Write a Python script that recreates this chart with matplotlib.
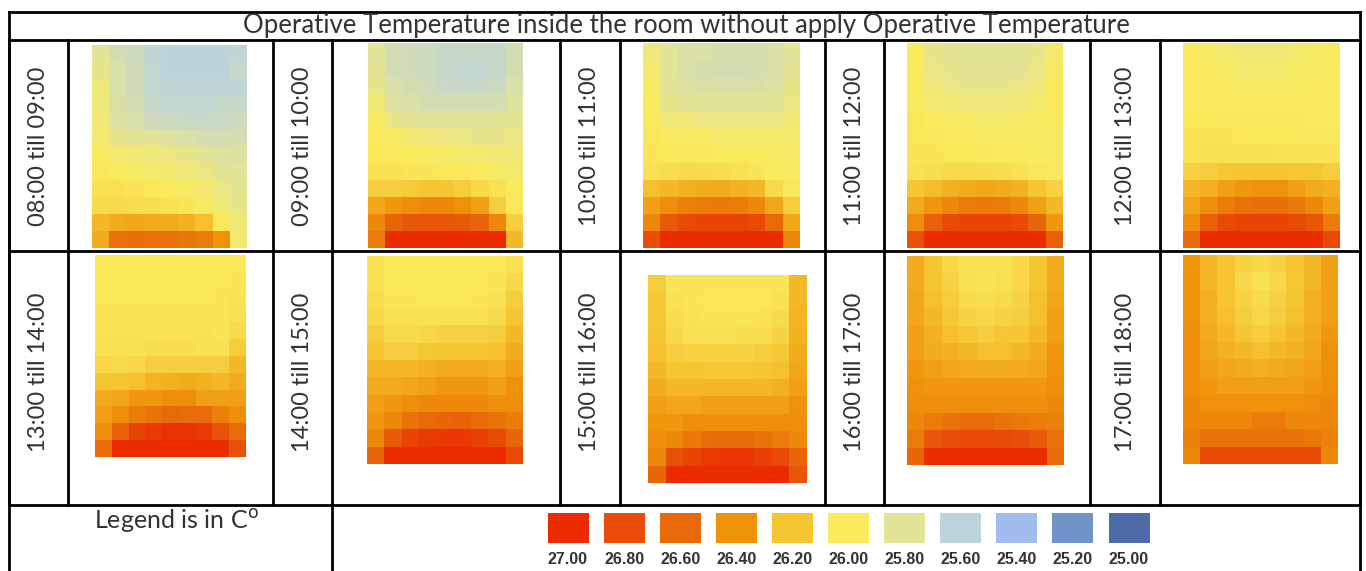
import numpy as np
import matplotlib
matplotlib.use("Agg")
import matplotlib.pyplot as plt
from matplotlib.colors import LinearSegmentedColormap, Normalize
from matplotlib.patches import Rectangle

# legend scale (deg C) and colours
legend_values = [27.00, 26.80, 26.60, 26.40, 26.20, 26.00, 25.80, 25.60, 25.40, 25.20, 25.00]
legend_colors = ["#EB2A00", "#E94C08", "#E8690A", "#F0930A", "#F6C532", "#FAEB5E",
                 "#E2E498", "#BDD4DC", "#A0BDEE", "#7093C8", "#4A6AA8"]

title = "Operative Temperature inside the room without apply Operative Temperature"
periods = ["08:00 till 09:00", "09:00 till 10:00", "10:00 till 11:00", "11:00 till 12:00",
           "12:00 till 13:00", "13:00 till 14:00", "14:00 till 15:00", "15:00 till 16:00",
           "16:00 till 17:00", "17:00 till 18:00"]

# room grids, 12 rows (top to bottom) x 9 columns, deg C
t_08 = [
    [25.80, 25.72, 25.68, 25.62, 25.60, 25.60, 25.60, 25.60, 25.62],
    [25.85, 25.75, 25.70, 25.63, 25.60, 25.60, 25.60, 25.60, 25.65],
    [25.90, 25.75, 25.70, 25.64, 25.62, 25.62, 25.62, 25.62, 25.62],
    [25.90, 25.76, 25.72, 25.66, 25.63, 25.63, 25.63, 25.65, 25.65],
    [25.92, 25.78, 25.75, 25.70, 25.68, 25.67, 25.67, 25.67, 25.70],
    [25.95, 25.85, 25.82, 25.80, 25.78, 25.75, 25.73, 25.72, 25.73],
    [26.00, 25.95, 25.92, 25.90, 25.88, 25.85, 25.82, 25.78, 25.77],
    [26.02, 26.00, 25.98, 25.95, 25.93, 25.90, 25.87, 25.82, 25.80],
    [26.05, 26.05, 26.03, 26.02, 26.00, 25.97, 25.93, 25.87, 25.82],
    [26.08, 26.08, 26.07, 26.07, 26.05, 26.03, 25.98, 25.92, 25.85],
    [26.25, 26.30, 26.32, 26.30, 26.30, 26.28, 26.22, 26.02, 25.92],
    [26.30, 26.55, 26.57, 26.55, 26.55, 26.53, 26.50, 26.40, 25.95],
]
t_09 = [
    [25.80, 25.72, 25.70, 25.68, 25.66, 25.66, 25.66, 25.66, 25.72],
    [25.82, 25.72, 25.70, 25.68, 25.65, 25.64, 25.64, 25.65, 25.72],
    [25.85, 25.75, 25.72, 25.70, 25.67, 25.66, 25.66, 25.68, 25.75],
    [25.92, 25.78, 25.75, 25.72, 25.72, 25.72, 25.72, 25.73, 25.78],
    [25.97, 25.85, 25.82, 25.80, 25.80, 25.80, 25.80, 25.80, 25.82],
    [26.00, 25.97, 25.93, 25.90, 25.88, 25.86, 25.85, 25.85, 25.87],
    [26.02, 26.00, 26.00, 25.98, 25.97, 25.95, 25.95, 25.92, 25.92],
    [26.05, 26.05, 26.03, 26.03, 26.02, 26.02, 26.00, 25.98, 25.95],
    [26.15, 26.15, 26.17, 26.20, 26.20, 26.15, 26.10, 26.05, 26.00],
    [26.32, 26.38, 26.42, 26.45, 26.45, 26.40, 26.35, 26.15, 26.02],
    [26.45, 26.62, 26.72, 26.72, 26.72, 26.70, 26.62, 26.45, 26.15],
    [26.50, 26.98, 26.98, 26.98, 26.98, 26.98, 26.98, 26.98, 26.25],
]
t_10 = [
    [25.90, 25.80, 25.76, 25.75, 25.74, 25.74, 25.74, 25.76, 25.80],
    [25.95, 25.80, 25.76, 25.74, 25.72, 25.72, 25.73, 25.76, 25.82],
    [25.97, 25.82, 25.78, 25.76, 25.75, 25.75, 25.76, 25.78, 25.85],
    [26.00, 25.85, 25.82, 25.80, 25.80, 25.80, 25.80, 25.82, 25.88],
    [26.00, 25.92, 25.90, 25.88, 25.87, 25.87, 25.87, 25.87, 25.92],
    [26.02, 26.00, 25.98, 25.97, 25.96, 25.95, 25.95, 25.95, 25.95],
    [26.03, 26.02, 26.02, 26.01, 26.00, 26.00, 26.00, 25.98, 25.97],
    [26.05, 26.07, 26.08, 26.08, 26.07, 26.05, 26.03, 26.00, 25.98],
    [26.22, 26.25, 26.28, 26.30, 26.30, 26.28, 26.25, 26.08, 26.02],
    [26.35, 26.42, 26.48, 26.50, 26.52, 26.50, 26.45, 26.32, 26.15],
    [26.45, 26.70, 26.80, 26.85, 26.85, 26.85, 26.80, 26.60, 26.32],
    [26.78, 26.98, 26.98, 26.98, 26.98, 26.98, 26.98, 26.98, 26.45],
]
t_11 = [
    [26.00, 25.85, 25.82, 25.82, 25.82, 25.82, 25.82, 25.85, 25.95],
    [26.00, 25.87, 25.83, 25.82, 25.82, 25.82, 25.82, 25.87, 25.97],
    [26.00, 25.90, 25.87, 25.85, 25.85, 25.85, 25.87, 25.90, 26.00],
    [26.00, 25.95, 25.92, 25.90, 25.90, 25.90, 25.92, 25.95, 26.00],
    [26.02, 26.00, 25.98, 25.97, 25.96, 25.96, 25.97, 25.98, 26.00],
    [26.02, 26.01, 26.00, 26.00, 25.99, 25.99, 25.99, 25.98, 25.98],
    [26.03, 26.03, 26.02, 26.02, 26.01, 26.00, 26.00, 25.99, 25.98],
    [26.05, 26.06, 26.08, 26.08, 26.08, 26.07, 26.05, 26.02, 26.00],
    [26.20, 26.23, 26.28, 26.30, 26.32, 26.30, 26.28, 26.20, 26.12],
    [26.30, 26.38, 26.45, 26.50, 26.52, 26.50, 26.45, 26.35, 26.25],
    [26.42, 26.65, 26.80, 26.85, 26.85, 26.85, 26.80, 26.62, 26.38],
    [26.75, 26.98, 26.98, 26.98, 26.98, 26.98, 26.98, 26.98, 26.65],
]
t_12 = [
    [26.00, 25.98, 25.95, 25.92, 25.92, 25.92, 25.95, 25.97, 26.00],
    [26.00, 26.00, 25.98, 25.95, 25.95, 25.95, 25.97, 25.98, 26.00],
    [26.00, 26.00, 26.00, 25.98, 25.98, 25.98, 25.98, 26.00, 26.00],
    [26.00, 26.00, 26.00, 26.00, 26.00, 26.00, 26.00, 26.00, 26.00],
    [26.02, 26.02, 26.01, 26.01, 26.01, 26.01, 26.01, 26.00, 26.00],
    [26.03, 26.03, 26.03, 26.02, 26.02, 26.02, 26.02, 26.01, 26.01],
    [26.04, 26.05, 26.05, 26.05, 26.05, 26.04, 26.04, 26.03, 26.03],
    [26.12, 26.15, 26.18, 26.20, 26.20, 26.20, 26.18, 26.18, 26.15],
    [26.25, 26.28, 26.35, 26.38, 26.40, 26.40, 26.35, 26.30, 26.28],
    [26.32, 26.42, 26.50, 26.55, 26.57, 26.57, 26.52, 26.45, 26.35],
    [26.42, 26.65, 26.80, 26.85, 26.85, 26.85, 26.80, 26.72, 26.50],
    [26.60, 26.98, 26.98, 26.98, 26.98, 26.98, 26.98, 26.98, 26.82],
]
t_13 = [
    [26.02, 26.02, 26.02, 26.02, 26.02, 26.02, 26.02, 26.02, 26.02],
    [26.02, 26.02, 26.02, 26.02, 26.02, 26.02, 26.02, 26.02, 26.03],
    [26.02, 26.02, 26.02, 26.02, 26.02, 26.02, 26.02, 26.03, 26.04],
    [26.03, 26.03, 26.03, 26.03, 26.03, 26.03, 26.03, 26.03, 26.05],
    [26.04, 26.04, 26.04, 26.04, 26.04, 26.04, 26.04, 26.03, 26.08],
    [26.05, 26.05, 26.05, 26.06, 26.06, 26.06, 26.05, 26.05, 26.15],
    [26.10, 26.08, 26.10, 26.15, 26.15, 26.15, 26.15, 26.15, 26.25],
    [26.20, 26.20, 26.22, 26.27, 26.28, 26.30, 26.28, 26.25, 26.30],
    [26.30, 26.32, 26.38, 26.38, 26.42, 26.42, 26.35, 26.35, 26.35],
    [26.35, 26.42, 26.50, 26.55, 26.60, 26.58, 26.58, 26.48, 26.42],
    [26.42, 26.65, 26.85, 26.90, 26.95, 26.95, 26.90, 26.75, 26.58],
    [26.58, 26.98, 26.98, 26.98, 26.98, 26.98, 26.98, 26.98, 26.75],
]
t_14 = [
    [26.05, 26.02, 26.02, 26.02, 26.02, 26.02, 26.02, 26.02, 26.05],
    [26.05, 26.02, 26.02, 26.02, 26.02, 26.02, 26.02, 26.03, 26.10],
    [26.07, 26.03, 26.03, 26.02, 26.02, 26.02, 26.03, 26.05, 26.15],
    [26.10, 26.05, 26.05, 26.05, 26.05, 26.05, 26.05, 26.08, 26.20],
    [26.15, 26.08, 26.08, 26.10, 26.12, 26.12, 26.12, 26.15, 26.25],
    [26.20, 26.15, 26.15, 26.18, 26.20, 26.20, 26.20, 26.22, 26.30],
    [26.25, 26.25, 26.25, 26.28, 26.30, 26.30, 26.30, 26.28, 26.35],
    [26.30, 26.30, 26.32, 26.35, 26.38, 26.38, 26.38, 26.35, 26.40],
    [26.35, 26.38, 26.42, 26.45, 26.45, 26.45, 26.45, 26.42, 26.42],
    [26.38, 26.45, 26.55, 26.60, 26.62, 26.65, 26.60, 26.55, 26.50],
    [26.45, 26.70, 26.85, 26.90, 26.92, 26.92, 26.88, 26.80, 26.62],
    [26.62, 26.98, 26.98, 26.98, 26.98, 26.98, 26.98, 26.98, 26.82],
]
t_15 = [
    [26.15, 26.03, 26.03, 26.03, 26.03, 26.03, 26.03, 26.03, 26.25],
    [26.18, 26.05, 26.03, 26.02, 26.02, 26.02, 26.02, 26.05, 26.25],
    [26.18, 26.07, 26.04, 26.03, 26.03, 26.03, 26.04, 26.08, 26.27],
    [26.20, 26.10, 26.05, 26.05, 26.05, 26.07, 26.07, 26.12, 26.28],
    [26.22, 26.15, 26.12, 26.12, 26.12, 26.12, 26.15, 26.18, 26.30],
    [26.25, 26.20, 26.20, 26.18, 26.18, 26.18, 26.20, 26.22, 26.32],
    [26.30, 26.25, 26.25, 26.25, 26.25, 26.25, 26.25, 26.28, 26.35],
    [26.35, 26.32, 26.32, 26.35, 26.35, 26.35, 26.35, 26.35, 26.40],
    [26.38, 26.38, 26.42, 26.42, 26.42, 26.42, 26.42, 26.42, 26.42],
    [26.42, 26.45, 26.52, 26.58, 26.60, 26.60, 26.55, 26.50, 26.45],
    [26.45, 26.75, 26.85, 26.90, 26.92, 26.92, 26.88, 26.80, 26.62],
    [26.62, 26.98, 26.98, 26.98, 26.98, 26.98, 26.98, 26.98, 26.72],
]
t_16 = [
    [26.30, 26.20, 26.10, 26.05, 26.05, 26.05, 26.10, 26.20, 26.30],
    [26.30, 26.20, 26.12, 26.05, 26.03, 26.05, 26.10, 26.20, 26.30],
    [26.32, 26.22, 26.15, 26.08, 26.06, 26.08, 26.12, 26.22, 26.32],
    [26.32, 26.25, 26.18, 26.12, 26.10, 26.12, 26.15, 26.22, 26.35],
    [26.35, 26.28, 26.22, 26.18, 26.15, 26.18, 26.20, 26.25, 26.35],
    [26.35, 26.30, 26.28, 26.25, 26.22, 26.22, 26.25, 26.30, 26.38],
    [26.38, 26.35, 26.32, 26.30, 26.30, 26.30, 26.30, 26.32, 26.40],
    [26.40, 26.38, 26.38, 26.38, 26.38, 26.38, 26.38, 26.38, 26.42],
    [26.42, 26.42, 26.42, 26.42, 26.42, 26.42, 26.42, 26.42, 26.45],
    [26.45, 26.50, 26.55, 26.58, 26.58, 26.55, 26.52, 26.50, 26.48],
    [26.50, 26.72, 26.78, 26.82, 26.82, 26.80, 26.78, 26.70, 26.55],
    [26.62, 26.98, 26.98, 26.98, 26.98, 26.98, 26.98, 26.98, 26.60],
]
t_17 = [
    [26.38, 26.25, 26.20, 26.12, 26.10, 26.12, 26.20, 26.25, 26.35],
    [26.40, 26.25, 26.20, 26.10, 26.05, 26.10, 26.18, 26.25, 26.35],
    [26.40, 26.28, 26.20, 26.12, 26.08, 26.12, 26.20, 26.28, 26.35],
    [26.40, 26.28, 26.22, 26.15, 26.10, 26.15, 26.22, 26.28, 26.35],
    [26.42, 26.30, 26.25, 26.20, 26.15, 26.20, 26.25, 26.30, 26.38],
    [26.42, 26.32, 26.28, 26.25, 26.22, 26.25, 26.28, 26.32, 26.40],
    [26.42, 26.35, 26.32, 26.30, 26.28, 26.30, 26.32, 26.35, 26.40],
    [26.42, 26.38, 26.35, 26.35, 26.35, 26.35, 26.35, 26.38, 26.42],
    [26.45, 26.40, 26.40, 26.40, 26.40, 26.40, 26.40, 26.42, 26.45],
    [26.45, 26.45, 26.45, 26.45, 26.50, 26.50, 26.45, 26.45, 26.45],
    [26.48, 26.55, 26.55, 26.55, 26.55, 26.55, 26.55, 26.52, 26.48],
    [26.45, 26.80, 26.80, 26.80, 26.80, 26.80, 26.80, 26.80, 26.45],
]
grids = [t_08, t_09, t_10, t_11, t_12, t_13, t_14, t_15, t_16, t_17]

# layout in pixels (x0, x1, y0, y1) of each room picture
img_boxes = [
    (92, 247, 45, 248), (368, 523, 43, 248), (643, 800, 43, 248),
    (907, 1063, 43, 248), (1183, 1340, 43, 248),
    (95, 246, 255, 457), (367, 523, 256, 464), (648, 807, 275, 483),
    (907, 1064, 256, 465), (1183, 1338, 255, 464),
]
label_x = [38.5, 302.5, 590, 854.5, 1125]
col_lines = [9, 68, 273, 332, 560, 620, 825, 884, 1090, 1160, 1360]

W, H = 1366, 571
fig = plt.figure(figsize=(W / 100, H / 100), dpi=100)
ax = fig.add_axes([0, 0, 1, 1])

cmap = LinearSegmentedColormap.from_list("temp", legend_colors[::-1])
norm = Normalize(vmin=25.0, vmax=27.0)

for grid, (x0, x1, y0, y1) in zip(grids, img_boxes):
    ax.imshow(np.array(grid), cmap=cmap, norm=norm, extent=(x0, x1, y1, y0),
              origin="upper", aspect="auto", interpolation="nearest", zorder=1)

txt_col = "#333333"
lw = 2.0
# table frame
for y in [12, 40, 251, 505]:
    ax.plot([9, 1360], [y, y], color="black", lw=lw, zorder=3, solid_capstyle="projecting")
for x in col_lines:
    ax.plot([x, x], [40, 505], color="black", lw=lw, zorder=3)
for x in [9, 1360]:
    ax.plot([x, x], [12, 571], color="black", lw=lw, zorder=3)
ax.plot([332, 332], [505, 571], color="black", lw=lw, zorder=3)

ax.text(686, 25, title, ha="center", va="center", fontsize=18.5, family="Lato", color=txt_col)

for i, p in enumerate(periods):
    row_y = 146 if i < 5 else 372
    ax.text(label_x[i % 5], row_y, p, rotation=90, ha="center", va="center",
            fontsize=17, family="Lato", color=txt_col)

ax.text(176, 521, r"Legend is in C$^{\mathrm{o}}$", ha="center", va="center",
        fontsize=18, family="Lato", color=txt_col)

# colour legend
for i, (v, c) in enumerate(zip(legend_values, legend_colors)):
    xc = 568 + i * 56.1
    ax.add_patch(Rectangle((xc - 20.5, 513), 41, 30, facecolor=c, edgecolor="none", zorder=2))
    ax.text(xc, 559, f"{v:.2f}", ha="center", va="center", fontsize=11.5,
            fontweight="bold", family=["Liberation Sans", "DejaVu Sans"], color="#333333")

ax.set_xlim(0, W)
ax.set_ylim(H, 0)
ax.axis("off")
fig.savefig("out.png", dpi=100, facecolor="white")
